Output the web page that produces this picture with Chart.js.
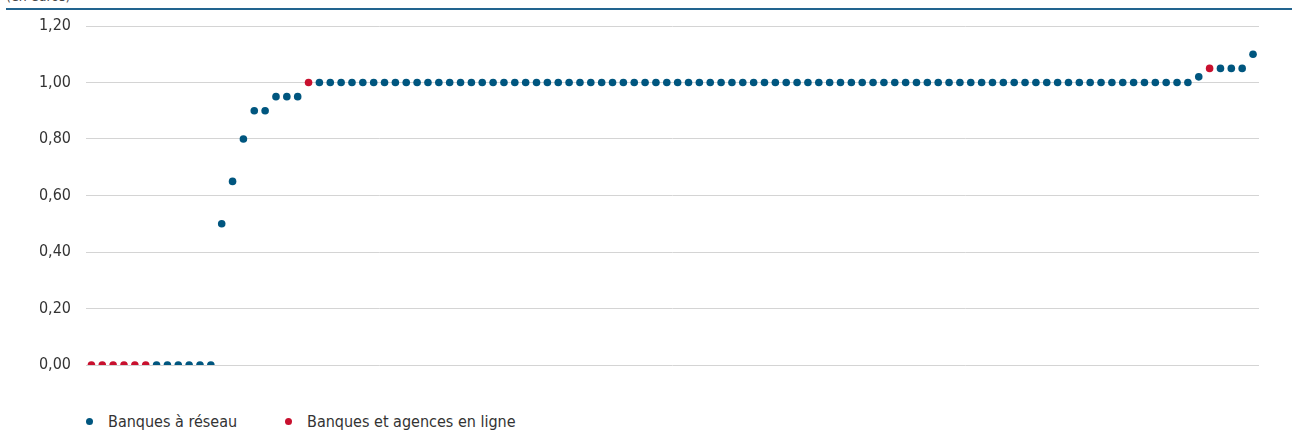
<!DOCTYPE html>
<html lang="fr">
<head>
<meta charset="utf-8">
<script src="https://cdn.jsdelivr.net/npm/chart.js@4.4.1/dist/chart.umd.min.js"></script>
<style>
    html, body { margin: 0; padding: 0; background: #fff; }
    body { width: 1292px; height: 433px; position: relative; overflow: hidden;
           font-family: 'Liberation Sans Narrow', 'DejaVu Sans Condensed', sans-serif; color: #333; }
    #unit { position: absolute; left: 6px; top: -11px; font-size: 14px; line-height: 14px; color: #444; }
    #topline { position: absolute; left: 6px; right: 0; top: 8px; height: 2px; background: #22648f; }
    #wrap { position: absolute; left: 0; top: 0; width: 1292px; height: 400px; }
    #legend { position: absolute; left: 86px; top: 412px; font-size: 16px; line-height: 20px; }
    .item { position: absolute; white-space: nowrap; }
    .dot { display: inline-block; width: 7px; height: 7px; border-radius: 50%; vertical-align: middle; margin-right: 15px; position: relative; top: -1px; }
</style>
</head>
<body>
<div id="unit">(en euros)</div>
<div id="topline"></div>
<div id="wrap"><canvas id="chart"></canvas></div>
<div id="legend">
    <span class="item" style="left:0"><span class="dot" style="background:#00567f"></span>Banques à réseau</span>
    <span class="item" style="left:199px"><span class="dot" style="background:#c8102e"></span>Banques et agences en ligne</span>
</div>
<script>
// Frais par banque, classés par ordre croissant (en euros)
const valeurs = [
    0.00, 0.00, 0.00, 0.00, 0.00, 0.00, 0.00, 0.00, 0.00, 0.00, 0.00, 0.00,
    0.50, 0.65, 0.80, 0.90, 0.90, 0.95, 0.95, 0.95, 1.00, 1.00, 1.00, 1.00,
    1.00, 1.00, 1.00, 1.00, 1.00, 1.00, 1.00, 1.00, 1.00, 1.00, 1.00, 1.00,
    1.00, 1.00, 1.00, 1.00, 1.00, 1.00, 1.00, 1.00, 1.00, 1.00, 1.00, 1.00,
    1.00, 1.00, 1.00, 1.00, 1.00, 1.00, 1.00, 1.00, 1.00, 1.00, 1.00, 1.00,
    1.00, 1.00, 1.00, 1.00, 1.00, 1.00, 1.00, 1.00, 1.00, 1.00, 1.00, 1.00,
    1.00, 1.00, 1.00, 1.00, 1.00, 1.00, 1.00, 1.00, 1.00, 1.00, 1.00, 1.00,
    1.00, 1.00, 1.00, 1.00, 1.00, 1.00, 1.00, 1.00, 1.00, 1.00, 1.00, 1.00,
    1.00, 1.00, 1.00, 1.00, 1.00, 1.00, 1.02, 1.05, 1.05, 1.05, 1.05, 1.10
];

// Rangs des banques et agences en ligne
const rangsEnLigne = [0, 1, 2, 3, 4, 5, 20, 103];

const yTicks = [0, 0.2, 0.4, 0.6, 0.8, 1.0, 1.2];

const COLORS = {
    reseau: '#00567f',
    enLigne: '#c8102e',
    grid: '#d4d4d4',
    text: '#333'
};

const ptsReseau = [];
const ptsEnLigne = [];
valeurs.forEach((v, i) => {
    if (rangsEnLigne.includes(i)) ptsEnLigne.push({ x: i, y: v });
    else ptsReseau.push({ x: i, y: v });
});

new Chart(document.getElementById('chart'), {
    type: 'scatter',
    data: {
        datasets: [
            {
                label: 'Banques à réseau',
                data: ptsReseau,
                backgroundColor: COLORS.reseau,
                borderWidth: 0,
                pointRadius: 3.8,
                pointHoverRadius: 3.8
            },
            {
                label: 'Banques et agences en ligne',
                data: ptsEnLigne,
                backgroundColor: COLORS.enLigne,
                borderWidth: 0,
                pointRadius: 3.8,
                pointHoverRadius: 3.8
            }
        ]
    },
    options: {
        responsive: true,
        maintainAspectRatio: false,
        animation: false,
        layout: { padding: { top: 26, right: 33, bottom: 35, left: 0 } },
        plugins: { legend: { display: false }, tooltip: { enabled: false } },
        scales: {
            x: {
                type: 'linear',
                min: -0.5,
                max: 107.55,
                display: false
            },
            y: {
                min: 0,
                max: 1.2,
                afterFit: s => { s.width = 86; },
                afterBuildTicks: s => { s.ticks = yTicks.map(v => ({ value: v })); },
                border: { display: false },
                grid: { color: COLORS.grid, lineWidth: 1, drawTicks: false },
                ticks: {
                    padding: 15,
                    color: COLORS.text,
                    font: { family: "'Liberation Sans Narrow', 'DejaVu Sans Condensed', sans-serif", size: 16 },
                    callback: v => v.toFixed(2).replace('.', ',')
                }
            }
        }
    }
});
</script>
</body>
</html>
